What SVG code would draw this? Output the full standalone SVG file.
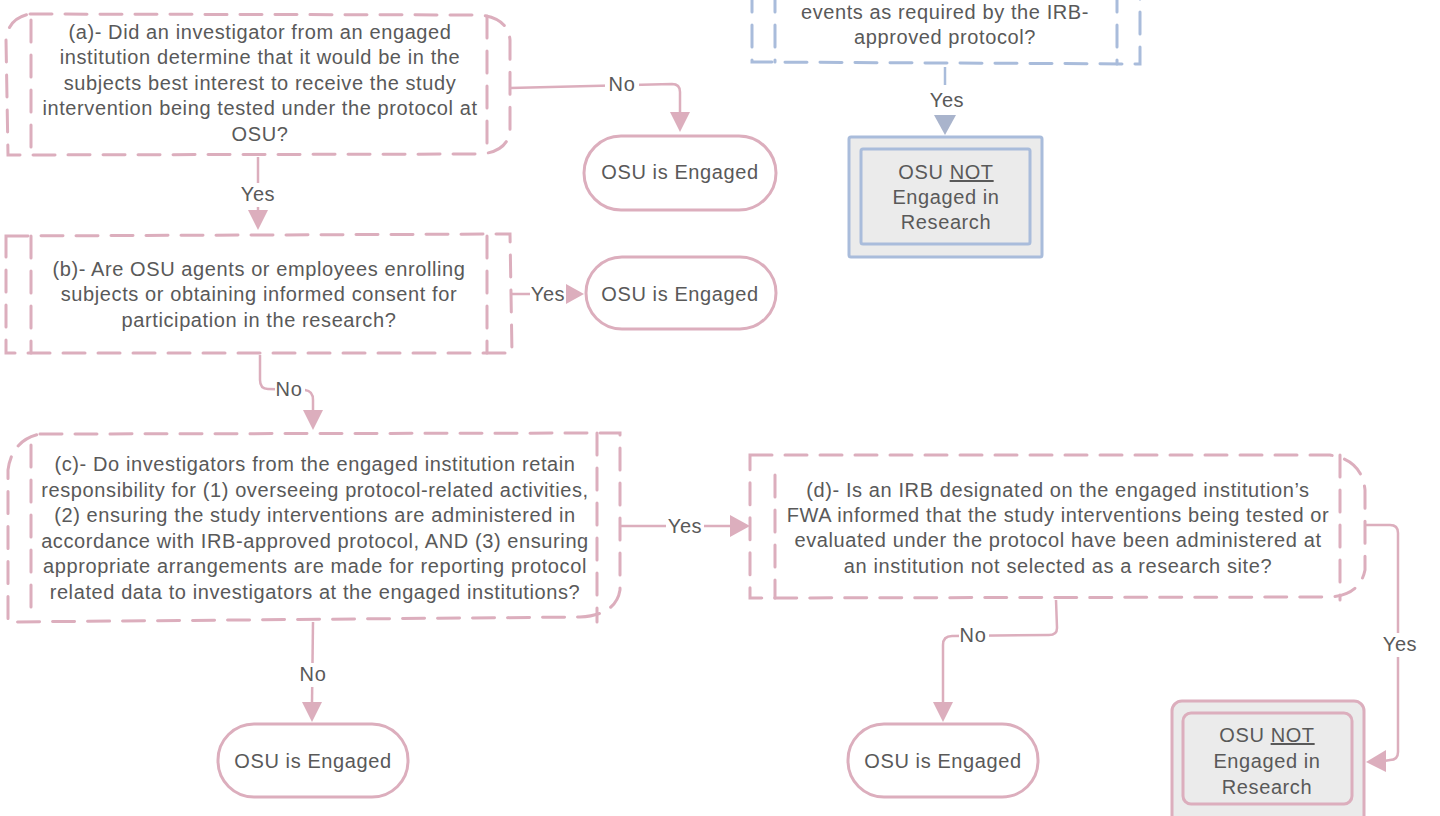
<svg xmlns="http://www.w3.org/2000/svg" width="1440" height="816" viewBox="0 0 1440 816">
<style>
.t{font-family:"Liberation Sans",Arial,sans-serif;font-size:20px;letter-spacing:0.6px;fill:#595959;text-anchor:middle}
.dp{fill:none;stroke:#dcaebd;stroke-width:3;stroke-dasharray:22 13;stroke-linecap:round}
.db{fill:none;stroke:#a9bcdb;stroke-width:3;stroke-dasharray:22 13;stroke-linecap:round}
.cp{fill:none;stroke:#dcaebd;stroke-width:2.5}
.cb{fill:none;stroke:#a9bcdb;stroke-width:2.5}
.term{fill:#fff;stroke:#dcaebd;stroke-width:3}
.np{fill:#ebebeb;stroke:#dcaebd;stroke-width:3}
.nb{fill:#ebebeb;stroke:#a9bcdb;stroke-width:3}
.lbl{fill:#fff}
</style>
<rect width="1440" height="816" fill="#fff"/>

<g id="connectors">
  <!-- a No -->
  <path class="cp" d="M510,88 L672,84 Q680,84 680,92 L680,112"/>
  <path d="M670,112 L690,112 L680,132 Z" fill="#dcaebd"/>
  <rect class="lbl" x="605" y="73" width="34" height="22"/>
  <text class="t" x="622" y="91">No</text>
  <!-- a Yes -->
  <path class="cp" d="M258,157 L258,210"/>
  <path d="M248,210 L268,210 L258,230 Z" fill="#dcaebd"/>
  <rect class="lbl" x="237" y="183" width="42" height="24"/>
  <text class="t" x="258" y="201">Yes</text>
  <!-- b Yes -->
  <path class="cp" d="M512,294 L566,294"/>
  <path d="M566,284 L584,294 L566,304 Z" fill="#dcaebd"/>
  <rect class="lbl" x="530" y="283" width="36" height="22"/>
  <text class="t" x="548" y="301">Yes</text>
  <!-- b No -->
  <path class="cp" d="M260,355 L260,380 Q260,389 268,389 L305,390 Q313,391 313,400 L313,410"/>
  <path d="M303,410 L323,410 L313,430 Z" fill="#dcaebd"/>
  <rect class="lbl" x="275" y="379" width="30" height="22"/>
  <text class="t" x="289" y="396">No</text>
  <!-- c Yes -->
  <path class="cp" d="M620,526 L730,526"/>
  <path d="M730,515 L750,526 L730,537 Z" fill="#dcaebd"/>
  <rect class="lbl" x="666" y="515" width="38" height="22"/>
  <text class="t" x="685" y="533">Yes</text>
  <!-- c No -->
  <path class="cp" d="M313,622 L312,702"/>
  <path d="M302,702 L322,702 L312,722 Z" fill="#dcaebd"/>
  <rect class="lbl" x="297" y="663" width="32" height="24"/>
  <text class="t" x="313" y="681">No</text>
  <!-- d No -->
  <path class="cp" d="M1056,600 L1057,628 Q1057,635 1049,635 L952,636 Q943,636 943,645 L943,702"/>
  <path d="M933,702 L953,702 L943,722 Z" fill="#dcaebd"/>
  <rect class="lbl" x="959" y="625" width="30" height="22"/>
  <text class="t" x="973" y="642">No</text>
  <!-- d Yes -->
  <path class="cp" d="M1365,525 L1390,525 Q1398,525 1398,533 L1398,752 Q1398,760 1390,760 L1384,761"/>
  <path d="M1386,750 L1366,762 L1386,772 Z" fill="#dcaebd"/>
  <rect class="lbl" x="1379" y="633" width="42" height="24"/>
  <text class="t" x="1400" y="651">Yes</text>
  <!-- top Yes -->
  <path class="cb" d="M945,67 L945,85"/>
  <path d="M934,115 L956,115 L945,135 Z" fill="#a9b4cc"/>
  <text class="t" x="947" y="107">Yes</text>
</g>

<g id="node-top">
  <path class="db" d="M752,-10 L752,62 L1140,64 L1140,-10"/>
  <path class="db" d="M775,-10 L775,62"/>
  <path class="db" d="M1117,-10 L1117,64"/>
  <text class="t" x="945" y="19">events as required by the IRB-</text>
  <text class="t" x="945" y="44">approved protocol?</text>
</g>

<g id="node-not-top">
  <rect class="nb" x="849" y="137" width="193" height="120" rx="2"/>
  <rect class="nb" x="861" y="149" width="169" height="95" rx="2"/>
  <text class="t" x="946" y="179">OSU <tspan text-decoration="underline">NOT</tspan></text>
  <text class="t" x="946" y="204">Engaged in</text>
  <text class="t" x="946" y="229">Research</text>
</g>

<g id="node-a">
  <path class="dp" d="M30,14 L480,15 Q508,18 510,40 L510,130 Q508,152 480,154 L8,155 L6,40 Q8,18 30,14 Z"/>
  <path class="dp" d="M31,20 L31,150"/>
  <path class="dp" d="M487,16 L487,154"/>
  <text class="t" x="260" y="39">(a)- Did an investigator from an engaged</text>
  <text class="t" x="260" y="64">institution determine that it would be in the</text>
  <text class="t" x="260" y="90">subjects best interest to receive the study</text>
  <text class="t" x="260" y="115">intervention being tested under the protocol at</text>
  <text class="t" x="260" y="141">OSU?</text>
</g>

<g id="end-a">
  <rect class="term" x="584" y="136" width="192" height="74" rx="37"/>
  <text class="t" x="680" y="179">OSU is Engaged</text>
</g>

<g id="node-b">
  <path class="dp" d="M6,236 L510,234 L512,353 L6,353 Z"/>
  <path class="dp" d="M31,236 L31,353"/>
  <path class="dp" d="M487,236 L487,353"/>
  <text class="t" x="259" y="276">(b)- Are OSU agents or employees enrolling</text>
  <text class="t" x="259" y="301">subjects or obtaining informed consent for</text>
  <text class="t" x="259" y="327">participation in the research?</text>
</g>

<g id="end-b">
  <rect class="term" x="586" y="257" width="190" height="72" rx="36"/>
  <text class="t" x="680" y="301">OSU is Engaged</text>
</g>

<g id="node-c">
  <path class="dp" d="M40,434 L620,433 L620,590 Q616,615 580,617 L8,622 L8,470 Q12,440 40,434 Z"/>
  <path class="dp" d="M31,445 L31,620"/>
  <path class="dp" d="M597,433 L597,622"/>
  <text class="t" x="315" y="471">(c)- Do investigators from the engaged institution retain</text>
  <text class="t" x="315" y="497">responsibility for (1) overseeing protocol-related activities,</text>
  <text class="t" x="315" y="522">(2) ensuring the study interventions are administered in</text>
  <text class="t" x="315" y="548">accordance with IRB-approved protocol, AND (3) ensuring</text>
  <text class="t" x="315" y="573">appropriate arrangements are made for reporting protocol</text>
  <text class="t" x="315" y="599">related data to investigators at the engaged institutions?</text>
</g>

<g id="end-c">
  <rect class="term" x="218" y="724" width="190" height="73" rx="36"/>
  <text class="t" x="313" y="768">OSU is Engaged</text>
</g>

<g id="node-d">
  <path class="dp" d="M750,455 L1330,455 Q1362,460 1365,490 L1365,570 Q1360,595 1330,597 L750,598 Z"/>
  <path class="dp" d="M775,475 L775,598"/>
  <path class="dp" d="M1340,455 L1340,600"/>
  <text class="t" x="1058" y="497">(d)- Is an IRB designated on the engaged institution’s</text>
  <text class="t" x="1058" y="522">FWA informed that the study interventions being tested or</text>
  <text class="t" x="1058" y="547">evaluated under the protocol have been administered at</text>
  <text class="t" x="1058" y="573">an institution not selected as a research site?</text>
</g>

<g id="end-d">
  <rect class="term" x="848" y="724" width="190" height="73" rx="36"/>
  <text class="t" x="943" y="768">OSU is Engaged</text>
</g>

<g id="node-not-d">
  <rect class="np" x="1172" y="701" width="192" height="125" rx="10"/>
  <rect class="np" x="1183" y="713" width="169" height="91" rx="8"/>
  <text class="t" x="1267" y="742">OSU <tspan text-decoration="underline">NOT</tspan></text>
  <text class="t" x="1267" y="768">Engaged in</text>
  <text class="t" x="1267" y="794">Research</text>
</g>
</svg>
